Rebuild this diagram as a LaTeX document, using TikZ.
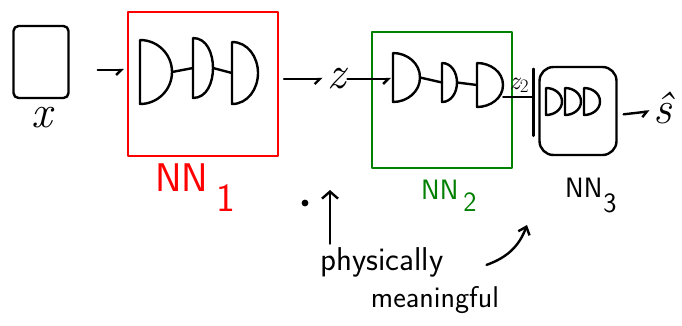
\documentclass[tikz,border=0pt]{standalone}
\usepackage{fontspec}
\usetikzlibrary{arrows.meta,positioning}

\definecolor{nnred}{RGB}{255,0,0}
\definecolor{nngreen}{RGB}{0,128,0}

\tikzset{
  ink/.style={line width=2.4pt, line cap=round, line join=round},
  frame/.style={draw, line width=2pt, line join=round, inner sep=0pt},
  dbox/.style={rectangle, inner sep=0pt, outer sep=0pt},
  tip/.style={-{Straight Barb[length=5pt,width=10pt,right]}},
  letter/.style={font=\itshape\fontsize{46}{48}\selectfont, inner sep=1pt},
  nnlab/.style={font=\sffamily\fontsize{#1}{#1}\selectfont, inner sep=0pt, anchor=north west},
  note/.style={font=\sffamily\fontsize{#1}{#1}\selectfont},
}

\begin{document}
\begin{tikzpicture}[x=1pt,y=-1pt]
  \useasboundingbox (0,0) rectangle (682,325);
  % Input
  \node[ink, draw, rounded corners=5pt, minimum width=55pt, minimum height=72pt] (inbox) at (41,62) {};
  \node[letter] (xlab) at (42,118) {x};
  % NN 1
  \node[frame, draw=nnred, minimum width=150pt, minimum height=144pt] (nnone) at (203,84) {};
  \node[dbox, minimum width=32pt, minimum height=64pt] (l11) at (156,72) {};
  \node[dbox, minimum width=20pt, minimum height=60pt] (l12) at (203,68) {};
  \node[dbox, minimum width=26pt, minimum height=62pt] (l13) at (245,73) {};
  \draw[ink] (l11.east) -- (l12.west);
  \draw[ink] (l12.east) -- (l13.west);
  \node[nnlab=40, text=nnred] (nnonelab) at (155,164) {NN\hspace{8pt}\raisebox{-20pt}{1}};
  \draw[ink, tip, shorten <=28pt, shorten >=3pt] ([yshift=-8pt]inbox.east) -- ([yshift=-8pt]nnone.west |- inbox.east);
  % z
  \node[letter] (zlab) at (337,79) {z};
  \draw[ink, tip, shorten <=5pt, shorten >=4pt] (nnone.east |- zlab) -- (zlab);
  % NN 2
  \node[frame, draw=nngreen, minimum width=140pt, minimum height=136pt] (nntwo) at (442,100) {};
  \node[dbox, minimum width=27pt, minimum height=49pt] (l21) at (406.5,77.5) {};
  \node[dbox, minimum width=15pt, minimum height=39pt] (l22) at (449.5,82.5) {};
  \node[dbox, minimum width=26pt, minimum height=44pt] (l23) at (490,85) {};
  \draw[ink] (l21.east) -- (l22.west);
  \draw[ink] (l22.east) -- (l23.west);
  \draw[ink, tip, shorten >=2pt] (zlab) -- (l21.west |- zlab);
  \node[nnlab=28, text=nngreen] (nntwolab) at (421,180) {NN\hspace{5pt}\raisebox{-12pt}{2}};
  % NN 3
  \node[ink, draw, rounded corners=14pt, minimum width=77pt, minimum height=88pt] (nnthree) at (578,111) {};
  \draw[ink] ([xshift=-5pt,yshift=-3pt]nnthree.north west) -- ++(0,67);
  \foreach \k/\x in {1/554,2/573,3/592}
    \node[dbox, minimum width=16pt, minimum height=27pt] (l3\k) at (\x,101.5) {};
  \node[font=\itshape\fontsize{26}{28}\selectfont, inner sep=0pt] (ztwolab) at (519,85) {z\raisebox{-3pt}{\upshape\fontsize{19}{19}\selectfont 2}};
  \draw[ink, line width=1.8pt] (l23.east |- 0,97) -- ([xshift=-5pt]nnthree.west |- 0,97);
  \node[nnlab=28] (nnthreelab) at (565,178) {NN\hspace{1pt}\raisebox{-15pt}{3}};
  % Layers drawn as D shapes
  \foreach \n in {l11,l12,l13,l21,l22,l23,l31,l32,l33}
    \draw[ink] (\n.north west) -- (\n.south west) to[out=0,in=-90] (\n.east) to[out=90,in=0] (\n.north west);
  % Output
  \node[letter] (shat) at (663,108) {\^{s}};
  \draw[ink, tip, shorten <=6pt, shorten >=3pt] (nnthree.east |- 0,115) -- (shat.west |- 0,111);
  % Annotation
  \node[circle, fill, inner sep=2.4pt] (dot) at (305,203) {};
  \node[note=33] (phys) at (382,262) {physically};
  \node[note=30] (mean) at (435,300) {meaningful};
  \coordinate (uptip) at (330,190);
  \coordinate (nntip) at (527,225);
  \draw[ink, -{Straight Barb[length=7pt,width=16pt]}] (phys.north -| uptip) -- (uptip);
  \draw[ink, -{Straight Barb[length=7pt,width=12pt]}] ([xshift=-16pt,yshift=18pt]mean.north east) to[bend right=25] (nntip);
\end{tikzpicture}
\end{document}
